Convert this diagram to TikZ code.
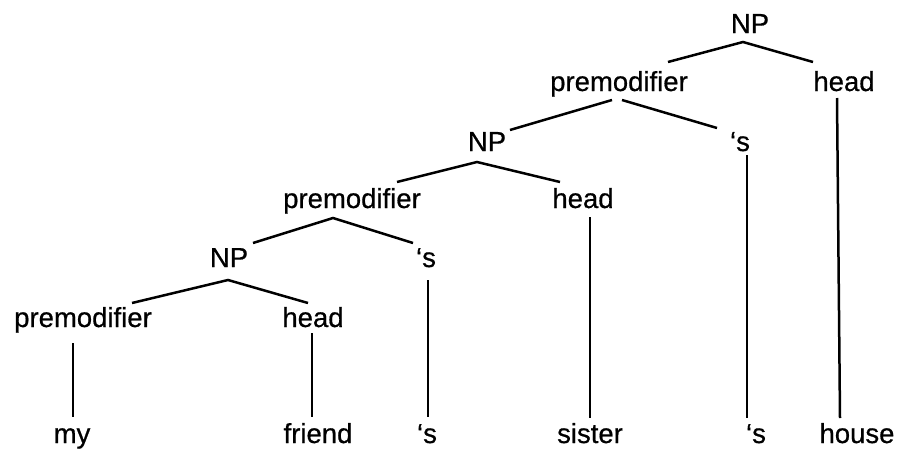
\documentclass[tikz,border=0pt]{standalone}
\usepackage{fontspec}
\setmainfont{Liberation Sans}
\newfontfamily\lblfont{Liberation Sans}[BoldFont=Liberation Sans,BoldFeatures={FakeBold=0.6}]
\begin{document}
\begin{tikzpicture}[x=1pt,y=-1pt,
  lbl/.style={anchor=base,inner sep=0pt,font=\fontsize{27.5}{33}\lblfont\bfseries},
  br/.style={line width=2.5pt,black}]
\useasboundingbox (0,0) rectangle (897,453);
% labels
\node[lbl] (np1) at (750,33) {NP};
\node[lbl] (pm1) at (619,91) {premodifier};
\node[lbl] (hd1) at (844,91) {head};
\node[lbl] (np2) at (487,151) {NP};
\node[lbl] (s1) at (740,151) {‘s};
\node[lbl] (pm2) at (352,208) {premodifier};
\node[lbl] (hd2) at (583,208) {head};
\node[lbl] (np3) at (229,267) {NP};
\node[lbl] (s2) at (426,267) {‘s};
\node[lbl] (pm3) at (83,327) {premodifier};
\node[lbl] (hd3) at (313,327) {head};
\node[lbl] (wmy) at (72,443) {my};
\node[lbl] (wfriend) at (318,443) {friend};
\node[lbl] (ws2) at (427,443) {‘s};
\node[lbl] (wsister) at (590,443) {sister};
\node[lbl] (ws1) at (756,443) {‘s};
\node[lbl] (whouse) at (857,443) {house};
% branches
\draw[br] ([shift={(49,-29)}]pm1.base) -- ([shift={(-7,9)}]np1.base) -- ([shift={(-31,-29)}]hd1.base);
\draw[br] ([shift={(-7,9)}]pm1.base) -- ([shift={(23,-21)}]np2.base);
\draw[br] ([shift={(3,9)}]pm1.base) -- ([shift={(-23,-23)}]s1.base);
\draw[br] ([shift={(-7,7)}]hd1.base) -- ([shift={(-17,-25)}]whouse.base);
\draw[br] ([shift={(7,4)}]s1.base) -- ([shift={(-9,-25)}]ws1.base);
\draw[br] ([shift={(45,-26)}]pm2.base) -- ([shift={(-10,11)}]np2.base) -- ([shift={(-23,-26)}]hd2.base);
\draw[br] ([shift={(7,9)}]hd2.base) -- ([shift={(0,-25)}]wsister.base);
\draw[br] ([shift={(24,-24)}]np3.base) -- ([shift={(-19,10)}]pm2.base) -- ([shift={(-13,-24)}]s2.base);
\draw[br] ([shift={(2,13)}]s2.base) -- ([shift={(1,-26)}]ws2.base);
\draw[br] ([shift={(49,-24)}]pm3.base) -- ([shift={(-1,13)}]np3.base) -- ([shift={(-5,-24)}]hd3.base);
\draw[br] ([shift={(-10,16)}]pm3.base) -- ([shift={(1,-26)}]wmy.base);
\draw[br] ([shift={(-1,6)}]hd3.base) -- ([shift={(-6,-26)}]wfriend.base);
\end{tikzpicture}
\end{document}
